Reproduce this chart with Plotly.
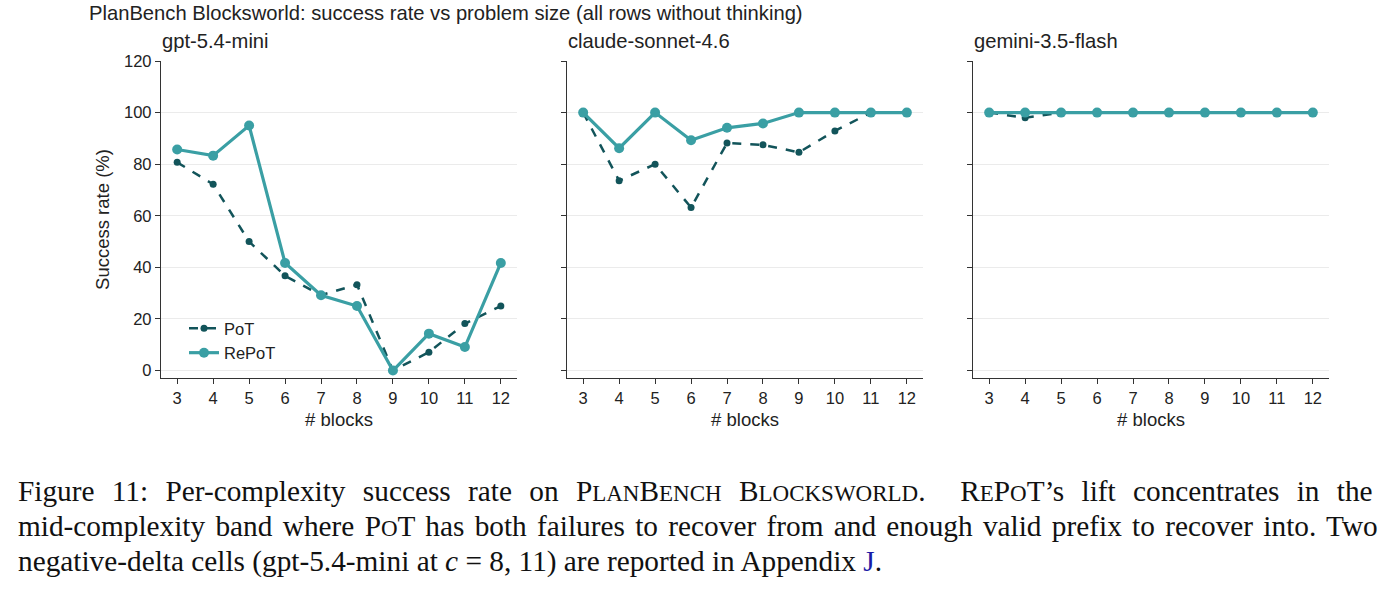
import plotly.graph_objects as go

W, H = 1392, 593

blocks = [3, 4, 5, 6, 7, 8, 9, 10, 11, 12]
models = ["gpt-5.4-mini", "claude-sonnet-4.6", "gemini-3.5-flash"]

pot_gpt = [80.7, 72.2, 50.0, 36.7, 29.2, 33.3, 0.0, 7.1, 18.2, 25.0]
repot_gpt = [85.7, 83.3, 95.0, 41.7, 29.2, 25.0, 0.0, 14.3, 9.1, 41.7]
pot_claude = [100.0, 73.6, 80.0, 63.2, 88.2, 87.5, 84.6, 92.9, 100.0, 100.0]
repot_claude = [100.0, 86.2, 100.0, 89.3, 94.1, 95.8, 100.0, 100.0, 100.0, 100.0]
pot_gemini = [100.0, 98.0, 100.0, 100.0, 100.0, 100.0, 100.0, 100.0, 100.0, 100.0]
repot_gemini = [100.0] * 10

pot_series = [pot_gpt, pot_claude, pot_gemini]
repot_series = [repot_gpt, repot_claude, repot_gemini]

y_ticks = [0, 20, 40, 60, 80, 100, 120]

POT_COLOR = "#12545a"
REPOT_COLOR = "#3a9fa4"
AX_COLOR = "#333333"
TXT = "#222222"
FONT = "Liberation Sans, Arial, sans-serif"

# panel pixel extents
px_left = [161, 567, 973]
px_width = 356
y_top, y_bot = 61, 378

fig = go.Figure()

for i in range(3):
    xa = "x" if i == 0 else f"x{i+1}"
    ya = "y" if i == 0 else f"y{i+1}"
    fig.add_trace(go.Scatter(
        x=blocks, y=pot_series[i], mode="lines+markers", name="PoT",
        line=dict(color=POT_COLOR, width=2.5, dash="dash"),
        marker=dict(color=POT_COLOR, size=7),
        xaxis=xa, yaxis=ya, showlegend=(i == 0), legendrank=1,
    ))
    fig.add_trace(go.Scatter(
        x=blocks, y=repot_series[i], mode="lines+markers", name="RePoT",
        line=dict(color=REPOT_COLOR, width=3.2),
        marker=dict(color=REPOT_COLOR, size=10),
        xaxis=xa, yaxis=ya, showlegend=(i == 0), legendrank=2,
    ))

layout = dict(
    width=W, height=H,
    margin=dict(l=0, r=0, t=0, b=0, autoexpand=False),
    paper_bgcolor="white", plot_bgcolor="white",
    font=dict(family=FONT, size=17, color=TXT),
    showlegend=True,
    legend=dict(
        x=184 / W, y=1 - 311 / H, xanchor="left", yanchor="top",
        bgcolor="rgba(255,255,255,0)", font=dict(size=16.5, color=TXT),
    ),
)

for i in range(3):
    xk = "xaxis" if i == 0 else f"xaxis{i+1}"
    yk = "yaxis" if i == 0 else f"yaxis{i+1}"
    x0 = px_left[i] / W
    x1 = (px_left[i] + px_width) / W
    layout[xk] = dict(
        domain=[x0, x1], anchor="y" if i == 0 else f"y{i+1}",
        range=[2.55, 12.45], tickmode="array", tickvals=blocks,
        ticktext=[str(b) for b in blocks],
        showgrid=False, zeroline=False, showline=True, linecolor=AX_COLOR, linewidth=1.3,
        ticks="outside", ticklen=5, tickcolor=AX_COLOR, tickwidth=1.2,
        tickfont=dict(size=16.5, color=TXT), automargin=False,
        title=dict(text="# blocks", font=dict(size=18.5, color=TXT), standoff=7),
    )
    layout[yk] = dict(
        domain=[1 - y_bot / H, 1 - y_top / H], anchor="x" if i == 0 else f"x{i+1}",
        range=[-2.9, 120], tickmode="array", tickvals=y_ticks,
        ticktext=[str(t) for t in y_ticks] if i == 0 else [""] * len(y_ticks),
        showgrid=True, gridcolor="#ebebeb", gridwidth=1,
        zeroline=False, showline=True, linecolor=AX_COLOR, linewidth=1.3,
        ticks="outside", ticklen=5, tickcolor=AX_COLOR, tickwidth=1.2,
        tickfont=dict(size=16.5, color=TXT), automargin=False,
    )
layout["yaxis"]["title"] = dict(text="Success rate (%)", font=dict(size=18.5, color=TXT), standoff=9)

fig.update_layout(**layout)

annotations = [
    dict(text="PlanBench Blocksworld: success rate vs problem size (all rows without thinking)",
         x=87 / W, y=1 - 13 / H, xref="paper", yref="paper", xanchor="left", yanchor="middle",
         showarrow=False, font=dict(family=FONT, size=20.2, color=TXT)),
]
for i, m in enumerate(models):
    annotations.append(dict(
        text=m, x=(px_left[i] - 1) / W, y=1 - 41 / H, xref="paper", yref="paper",
        xanchor="left", yanchor="middle", showarrow=False,
        font=dict(family=FONT, size=20.2, color=TXT)))

SERIF = "Liberation Serif, Times New Roman, serif"
SMALL = 23


def sc(first, rest):
    return f"{first}<span style='font-size:{SMALL}px'>{rest}</span>"


cap1 = ("Figure 11: Per-complexity success rate on "
        + sc("P", "LAN") + sc("B", "ENCH") + " " + sc("B", "LOCKSWORLD") + ".  "
        + sc("R", "E") + sc("P", "O") + "T’s lift concentrates in the")
cap2 = ("mid-complexity band where " + sc("P", "O")
        + "T has both failures to recover from and enough valid prefix to recover into. Two")
cap3 = ("negative-delta cells (gpt-5.4-mini at <i>c</i> = 8, 11) are reported in Appendix "
        "<span style='color:#1a1aa6'>J</span>.")
spacing = ["10px", "3px", "0px"]
for j, c in enumerate([cap1, cap2, cap3]):
    annotations.append(dict(
        text=f"<span style='word-spacing:{spacing[j]}'>{c}</span>",
        x=16 / W, y=1 - (491 + 35 * j) / H, xref="paper", yref="paper",
        xanchor="left", yanchor="middle", showarrow=False,
        font=dict(family=SERIF, size=29.3, color="#111111")))

fig.update_layout(annotations=annotations)
fig.write_html("out.html")
